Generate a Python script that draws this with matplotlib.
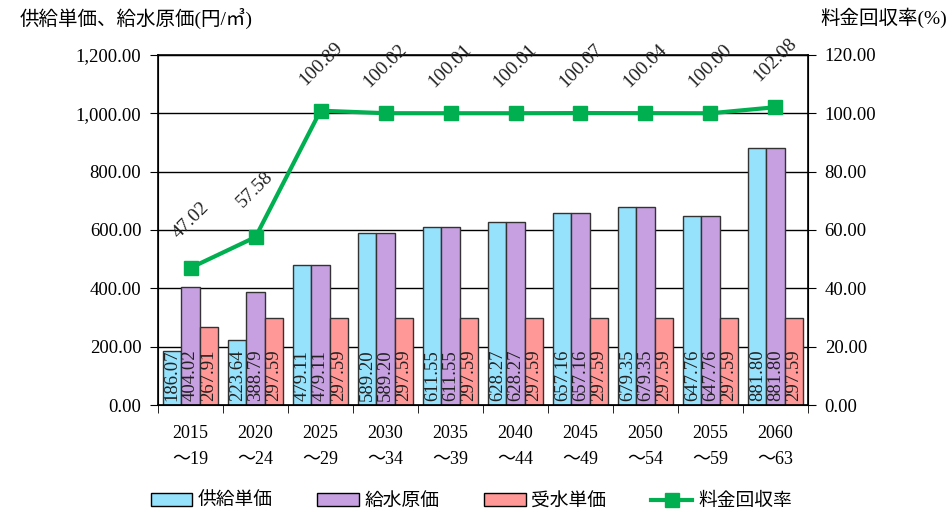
import numpy as np
import matplotlib
matplotlib.use('Agg')
import matplotlib.pyplot as plt
from matplotlib.patches import Patch
from matplotlib.lines import Line2D

plt.rcParams['font.family'] = ['Liberation Serif', 'Noto Sans CJK JP', 'DejaVu Sans']

# データ
periods = ['2015\n～19', '2020\n～24', '2025\n～29', '2030\n～34', '2035\n～39',
           '2040\n～44', '2045\n～49', '2050\n～54', '2055\n～59', '2060\n～63']
supply_price = [186.07, 223.64, 479.11, 589.20, 611.55, 628.27, 657.16, 679.35, 647.76, 881.80]
water_cost = [404.02, 388.79, 479.11, 589.20, 611.55, 628.27, 657.16, 679.35, 647.76, 881.80]
received_price = [267.91, 297.59, 297.59, 297.59, 297.59, 297.59, 297.59, 297.59, 297.59, 297.59]
recovery_rate = [47.02, 57.58, 100.89, 100.02, 100.01, 100.01, 100.07, 100.04, 100.00, 102.08]

c_supply = '#96E1FB'
c_cost = '#C6A0E0'
c_recv = '#FF9896'
c_line = '#00B050'

fig = plt.figure(figsize=(9.48, 5.18), dpi=100)
ax = fig.add_axes([0.1667, 0.218, 0.6856, 0.676])
ax2 = ax.twinx()

x = np.arange(len(periods))
w = 0.28
series = [(supply_price, c_supply, -w), (water_cost, c_cost, 0), (received_price, c_recv, w)]
for vals, col, off in series:
    ax.bar(x + off, vals, width=w, color=col, edgecolor='#333333', linewidth=1, zorder=2)
    for xi, v in zip(x, vals):
        ax.text(xi + off, 14, f'{v:.2f}', rotation=90, ha='center', va='bottom',
                fontsize=13.5, color='#222222', zorder=3)

ax.set_ylim(0, 1200)
ax.set_yticks(np.arange(0, 1201, 200))
ax.set_yticklabels([f'{v:,.2f}' for v in np.arange(0, 1201, 200)], fontsize=13.5)
ax.set_xlim(-0.5, len(periods) - 0.5)
ax.set_xticks(x)
ax.set_xticklabels(periods, fontsize=13, linespacing=1.75)
ax.set_xticks(np.arange(-0.5, len(periods), 1), minor=True)
ax.tick_params(axis='x', which='major', length=0, pad=14)
ax.tick_params(axis='x', which='minor', length=6, direction='out')
ax.tick_params(axis='y', length=6, direction='out', pad=6)
ax.grid(axis='y', color='black', linewidth=1, zorder=0)
ax.set_axisbelow(True)
for s in ax.spines.values():
    s.set_linewidth(1.2)

ax2.plot(x, recovery_rate, color=c_line, linewidth=3, marker='s', markersize=10, zorder=4)
for xi, v in zip(x, recovery_rate):
    ax2.annotate(f'{v:.2f}', (xi, v), xytext=(0, 34), textcoords='offset points',
                 rotation=45, ha='center', va='center', fontsize=14, color='#222222')
ax2.set_ylim(0, 120)
ax2.set_yticks(np.arange(0, 121, 20))
ax2.set_yticklabels([f'{v:.2f}' for v in np.arange(0, 121, 20)], fontsize=13.5)
ax2.tick_params(axis='y', length=6, direction='out', pad=6)

fig.text(0.021, 0.965, '供給単価、給水原価(円/㎥)', fontsize=14, va='center', ha='left')
fig.text(0.865, 0.965, '料金回収率(%)', fontsize=14, va='center', ha='left')

handles = [Patch(facecolor=c_supply, edgecolor='black', label='供給単価'),
           Patch(facecolor=c_cost, edgecolor='black', label='給水原価'),
           Patch(facecolor=c_recv, edgecolor='black', label='受水単価'),
           Line2D([0], [0], color=c_line, linewidth=3, marker='s', markersize=10, label='料金回収率')]
fig.legend(handles=handles, loc='lower center', bbox_to_anchor=(0.497, -0.018), ncol=4,
           frameon=False, fontsize=13.5, handlelength=2.2, columnspacing=2.4, handletextpad=0.3)

fig.savefig('out.png', dpi=100)
